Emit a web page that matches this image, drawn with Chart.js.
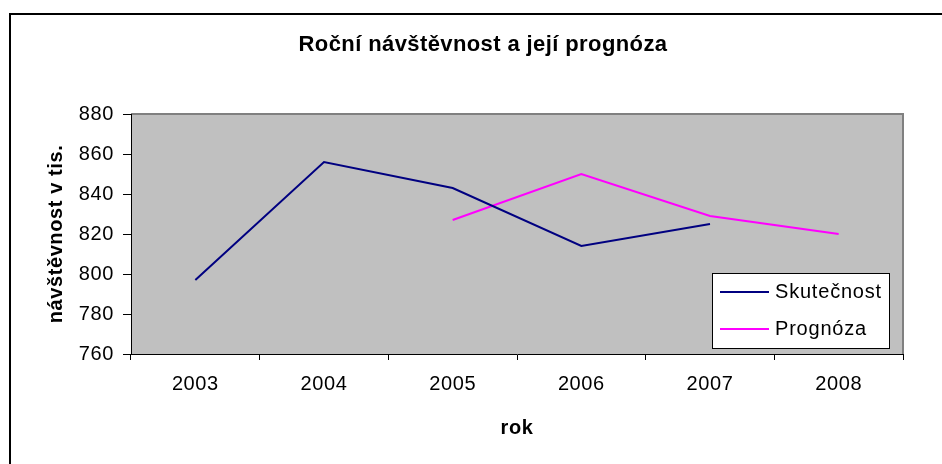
<!DOCTYPE html>
<html>
<head>
<meta charset="utf-8">
<script src="https://cdn.jsdelivr.net/npm/chart.js@4.4.0/dist/chart.umd.min.js"></script>
<style>
    html, body { margin: 0; padding: 0; background: #fff; }
    #wrap { width: 942px; height: 464px; }
</style>
</head>
<body>
<div id="wrap"><canvas id="lineChart" width="942" height="464"></canvas></div>
<script>
// data
var years = ["2003", "2004", "2005", "2006", "2007", "2008"];
var skutecnost = [797, 856, 843, 814, 825, null];
var prognoza = [null, null, 827, 850, 829, 820];
var yTicks = [760, 780, 800, 820, 840, 860, 880];

var chartTitle = "Roční návštěvnost a její prognóza";
var fontFamily = "'Liberation Sans', Arial, sans-serif";

Chart.defaults.font.family = fontFamily;
Chart.defaults.color = "#000";

// frame, gray plot area, title and legend box like the excel original
var excelLook = {
    id: "excelLook",
    beforeDraw: function (chart) {
        var ctx = chart.ctx;
        var a = chart.chartArea;
        ctx.save();
        ctx.fillStyle = "#fff";
        ctx.fillRect(0, 0, chart.width, chart.height);
        ctx.strokeStyle = "#000";
        ctx.lineWidth = 2;
        ctx.strokeRect(10, 14, 1000, 1000);
        ctx.fillStyle = "#c0c0c0";
        ctx.fillRect(a.left, a.top, a.right - a.left, a.bottom - a.top);
        ctx.strokeStyle = "#808080";
        ctx.lineWidth = 2;
        ctx.beginPath();
        ctx.moveTo(a.left, a.top);
        ctx.lineTo(a.right, a.top);
        ctx.lineTo(a.right, a.bottom);
        ctx.stroke();
        ctx.fillStyle = "#000";
        ctx.font = "bold 22px " + fontFamily;
        ctx.letterSpacing = "0.4px";
        ctx.textAlign = "center";
        ctx.textBaseline = "middle";
        ctx.fillText(chartTitle, 483, 45);
        ctx.restore();
        // excel spreads its letters a little
        ctx.letterSpacing = "0.6px";
    },
    afterDraw: function (chart) {
        var ctx = chart.ctx;
        var x = 712, y = 273, w = 177, h = 75;
        ctx.save();
        ctx.fillStyle = "#fff";
        ctx.fillRect(x, y, w, h);
        ctx.strokeStyle = "#000";
        ctx.lineWidth = 1;
        ctx.strokeRect(x + 0.5, y + 0.5, w, h);
        ctx.font = "20px " + fontFamily;
        ctx.letterSpacing = "0.8px";
        ctx.textBaseline = "middle";
        ctx.textAlign = "left";
        chart.data.datasets.forEach(function (ds, i) {
            var ly = y + 19 + i * 37;
            ctx.strokeStyle = ds.borderColor;
            ctx.lineWidth = 2;
            ctx.beginPath();
            ctx.moveTo(x + 8, ly);
            ctx.lineTo(x + 57, ly);
            ctx.stroke();
            ctx.fillStyle = "#000";
            ctx.fillText(ds.label, x + 63, ly);
        });
        ctx.restore();
    }
};

var lineChartData = {
    labels: years,
    datasets: [
        {
            label: "Skutečnost",
            data: skutecnost,
            borderColor: "#000080",
            backgroundColor: "#000080",
            borderWidth: 2,
            pointRadius: 0,
            tension: 0,
            fill: false
        },
        {
            label: "Prognóza",
            data: prognoza,
            borderColor: "#ff00ff",
            backgroundColor: "#ff00ff",
            borderWidth: 2,
            pointRadius: 0,
            tension: 0,
            fill: false
        }
    ]
};

var lineChartOptions = {
    responsive: false,
    animation: false,
    layout: { padding: { left: 10, right: 39, top: 114, bottom: 0 } },
    plugins: {
        legend: { display: false },
        title: { display: false },
        tooltip: { enabled: false }
    },
    scales: {
        x: {
            offset: true,
            grid: { offset: true, drawOnChartArea: false, tickLength: 6, color: "#000" },
            border: { color: "#000", width: 1 },
            ticks: { font: { size: 20 }, padding: 12, color: "#000" },
            title: { display: true, text: "rok", font: { size: 20, weight: "bold" }, padding: { top: 0, bottom: 24 } },
            afterFit: function (s) { s.height = 110; }
        },
        y: {
            min: 760,
            max: 880,
            afterBuildTicks: function (s) {
                s.ticks = yTicks.map(function (v) { return { value: v }; });
            },
            grid: { drawOnChartArea: false, tickLength: 8, color: "#000" },
            border: { color: "#000", width: 1 },
            ticks: { font: { size: 20 }, padding: 9, color: "#000" },
            title: { display: true, text: "návštěvnost v tis.", font: { size: 20, weight: "bold" }, padding: { top: 34, bottom: 0 } },
            afterFit: function (s) { s.width = 121; }
        }
    }
};

var ctx = document.getElementById("lineChart").getContext("2d");
var lineChart = new Chart(ctx, {
    type: "line",
    data: lineChartData,
    options: lineChartOptions,
    plugins: [excelLook]
});
</script>
</body>
</html>
